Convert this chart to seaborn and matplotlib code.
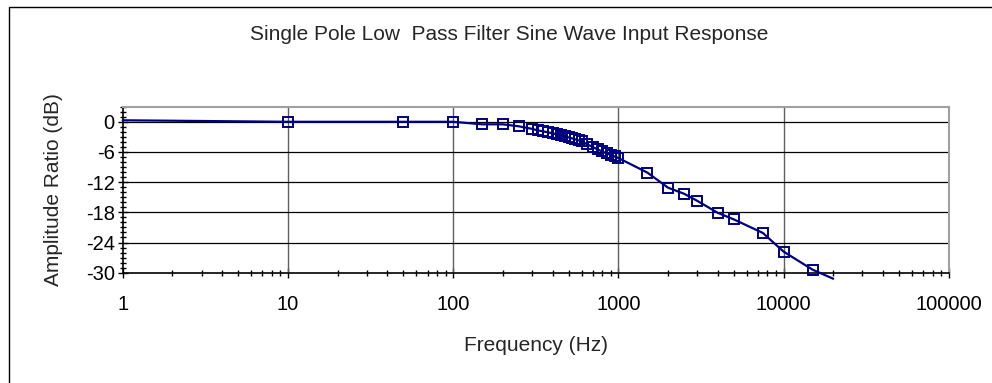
import matplotlib
matplotlib.use("Agg")
import matplotlib.pyplot as plt
from matplotlib.patches import Rectangle
from matplotlib.ticker import FixedLocator, NullFormatter
import seaborn as sns

freq_hz = [1, 10, 50, 100, 150, 200, 250, 300,
           325, 350, 375, 400, 425, 450, 475, 500, 525, 550, 575, 600,
           650, 700, 750, 800, 850, 900, 950, 1000,
           1500, 2000, 2500, 3000, 4000, 5000, 7500, 10000, 15000, 20000]
gain_db = [0.3, 0.0, 0.0, 0.0, -0.5, -0.5, -0.9, -1.4,
           -1.7, -1.9, -2.1, -2.3, -2.5, -2.7, -2.9, -3.1, -3.3, -3.5, -3.7, -3.9,
           -4.5, -5.0, -5.5, -5.9, -6.3, -6.6, -6.9, -7.2,
           -10.1, -13.1, -14.3, -15.7, -18.1, -19.4, -22.1, -25.8, -29.4, -31.2]

x_ticks = [1, 10, 100, 1000, 10000, 100000]
x_labels = ["1", "10", "100", "1000", "10000", "100000"]
y_ticks = [0, -6, -12, -18, -24, -30]
y_labels = ["0", "-6", "-12", "-18", "-24", "-30"]

sns.set_style("white")
plt.rcParams["font.family"] = ["Liberation Sans", "DejaVu Sans"]
plt.rcParams["axes.unicode_minus"] = False

navy = "#000080"

fig = plt.figure(figsize=(9.92, 3.83), dpi=100)
ax = fig.add_axes([122.7 / 992, 1 - 272.7 / 383, (948.7 - 122.7) / 992, (272.7 - 106.7) / 383])

# markers only on the measured points (not the first / last line ends)
sns.lineplot(x=freq_hz, y=gain_db, ax=ax, color=navy, linewidth=1.6,
             marker="s", markersize=7.5, markerfacecolor="none",
             mec=navy, mew=1.4, markevery=list(range(1, len(freq_hz) - 1)),
             clip_on=False, zorder=5)

ax.set_xscale("log")
ax.set_xlim(1, 100000)
ax.set_ylim(-30, 3)

ax.xaxis.set_major_locator(FixedLocator(x_ticks))
ax.set_xticklabels(x_labels)
ax.xaxis.set_minor_locator(FixedLocator([m * d for d in [1, 10, 100, 1000, 10000] for m in range(2, 10)]))
ax.xaxis.set_minor_formatter(NullFormatter())
ax.yaxis.set_major_locator(FixedLocator(y_ticks))
ax.set_yticklabels(y_labels)
ax.yaxis.set_minor_locator(FixedLocator(list(range(-30, 4))))

ax.tick_params(axis="both", which="major", direction="inout", length=6.5, width=1,
               colors="black", labelsize=14.5, bottom=True, left=True)
ax.tick_params(axis="both", which="minor", direction="inout", length=4, width=1,
               color="black", bottom=True, left=True)
ax.tick_params(axis="x", which="major", pad=13)
ax.tick_params(axis="y", which="major", pad=2.5)

for v in [10, 100, 1000, 10000]:
    ax.axvline(v, color="#606060", linewidth=1, zorder=1)
for v in [0, -6, -12, -18, -24]:
    ax.axhline(v, color="black", linewidth=0.9, zorder=1)

for s in ["top", "right"]:
    ax.spines[s].set_color("#a0a0a0")
    ax.spines[s].set_linewidth(1.5)
for s in ["left", "bottom"]:
    ax.spines[s].set_color("black")
    ax.spines[s].set_linewidth(1.2)

ax.set_xlabel("Frequency (Hz)", fontsize=15, labelpad=16)
ax.set_ylabel("Amplitude Ratio (dB)", fontsize=15, labelpad=16)

fig.text(509 / 992, 1 - 35 / 383, "Single Pole Low  Pass Filter Sine Wave Input Response",
         ha="center", va="center", fontsize=15)

# outer chart border
fig.patches.append(Rectangle((9 / 992, -0.05), 1.05, 1 - 7 / 383 + 0.05,
                             transform=fig.transFigure, fill=False,
                             edgecolor="black", linewidth=1))

plt.savefig("out.png", dpi=100)
